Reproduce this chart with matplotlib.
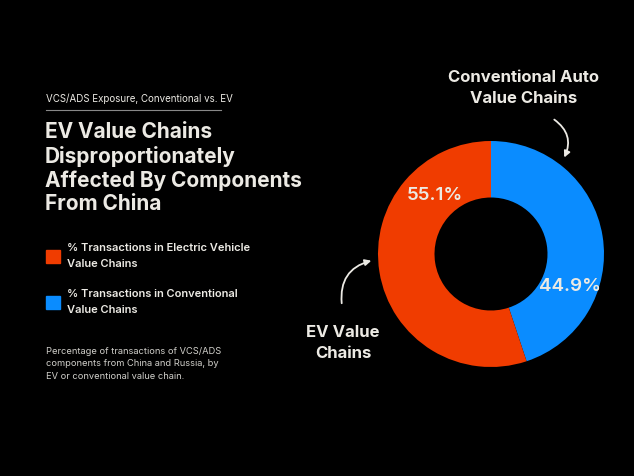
import matplotlib.pyplot as plt
from matplotlib.patches import Rectangle

# dados
categorias = ["Conventional Auto\nValue Chains", "EV Value\nChains"]
valores = [44.9, 55.1]
cores = ["#0A8CFF", "#F03C00"]
legenda = ["% Transactions in Electric Vehicle\nValue Chains",
           "% Transactions in Conventional\nValue Chains"]

texto = "#ECEAE4"
plt.rcParams['font.family'] = ['Inter', 'DejaVu Sans']

fig = plt.figure(figsize=(6.34, 4.76), dpi=100, facecolor="black")
W, H = 634, 476

def px(x, y):
    return x / W, 1 - y / H

# donut
ax = fig.add_axes([(491 - 113) / W, (476 - 254 - 113) / H, 226 / W, 226 / H])
ax.set_facecolor("black")
ax.pie(valores, colors=cores, startangle=90, counterclock=False, radius=1,
       wedgeprops=dict(width=0.5, edgecolor="none"))
ax.set_xlim(-1, 1)
ax.set_ylim(-1, 1)
ax.axis("off")
ax.text(-0.5, 0.52, f"{valores[1]}%", color=texto, fontsize=13.5, fontweight="semibold",
        ha="center", va="center")
ax.text(0.70, -0.29, f"{valores[0]}%", color=texto, fontsize=13.5, fontweight="semibold",
        ha="center", va="center")

# textos da esquerda
fig.text(*px(46, 99), "VCS/ADS Exposure, Conventional vs. EV", color=texto, fontsize=7,
         ha="left", va="center")
fig.add_artist(plt.Line2D([46 / W, 221 / W], [1 - 110 / H, 1 - 110 / H], color="#888888", lw=0.8))
fig.text(*px(45, 168), "EV Value Chains\nDisproportionately\nAffected By Components\nFrom China",
         color=texto, fontsize=15, fontweight="bold", ha="left", va="center", linespacing=1.22)

for i, (lab, y) in enumerate(zip(legenda, [256, 302])):
    fig.add_artist(Rectangle(px(46, y + 7), 14 / W, 13 / H, color=cores[1 - i], transform=fig.transFigure))
    fig.text(*px(67, y), lab, color=texto, fontsize=8, fontweight="semibold",
             ha="left", va="center", linespacing=1.75)

fig.text(*px(46, 364), "Percentage of transactions of VCS/ADS\ncomponents from China and Russia, by\nEV or conventional value chain.",
         color="#D0CFCA", fontsize=6.7, ha="left", va="center", linespacing=1.45)

# rotulos com setas
fig.text(*px(524, 88), categorias[0], color=texto, fontsize=12, fontweight="bold",
         ha="center", va="center", linespacing=1.45)
fig.text(*px(343, 343), categorias[1], color=texto, fontsize=12, fontweight="bold",
         ha="center", va="center", linespacing=1.45)

seta = dict(arrowstyle="-|>", color=texto, lw=1.3, mutation_scale=9)
ax.annotate("", xy=(563, H - 160), xytext=(552, H - 118), xycoords="figure pixels",
            textcoords="figure pixels", annotation_clip=False,
            arrowprops=dict(connectionstyle="arc3,rad=-0.45", **seta))
ax.annotate("", xy=(374, H - 260), xytext=(342, H - 306), xycoords="figure pixels",
            textcoords="figure pixels", annotation_clip=False,
            arrowprops=dict(connectionstyle="arc3,rad=-0.45", **seta))

fig.savefig("out.png", dpi=100, facecolor="black")
